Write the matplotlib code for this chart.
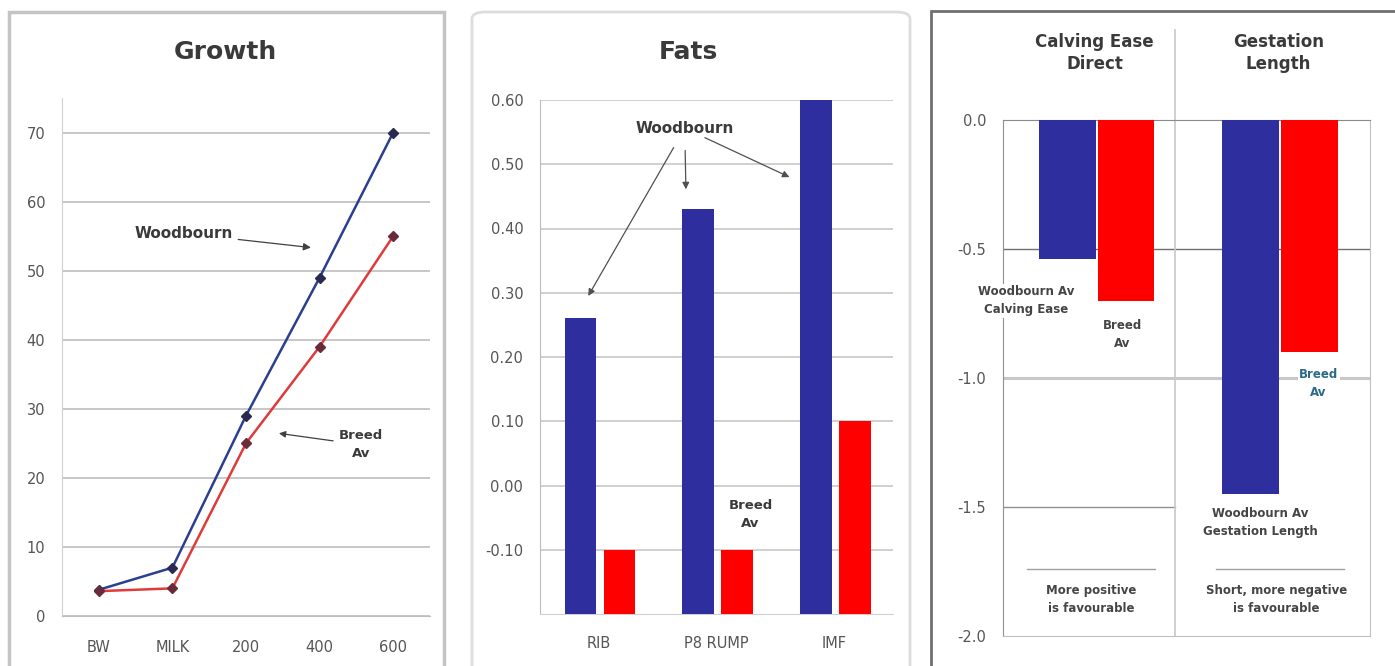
import matplotlib
matplotlib.use("Agg")
import matplotlib.pyplot as plt
import numpy as np
from matplotlib.patches import FancyBboxPatch, Rectangle

plt.rcParams['font.family'] = ['DejaVu Sans']

# ---------------- data ----------------
growth_cats = ["BW", "MILK", "200", "400", "600"]
growth_woodbourn = [3.8, 7.0, 29.0, 49.0, 70.0]
growth_breed = [3.6, 4.0, 25.0, 39.0, 55.0]
growth_yticks = [0, 10, 20, 30, 40, 50, 60, 70]

fats_cats = ["RIB", "P8 RUMP", "IMF"]
fats_woodbourn = [0.26, 0.43, 0.60]
fats_breed = [-0.10, -0.10, 0.10]
fats_yticks = [-0.10, 0.00, 0.10, 0.20, 0.30, 0.40, 0.50, 0.60]
fats_base = -0.20

calv_cats = ["Calving Ease Direct", "Gestation Length"]
calv_woodbourn = [-0.54, -1.45]
calv_breed = [-0.70, -0.90]
calv_yticks = [0.0, -0.5, -1.0, -1.5, -2.0]

BLUE = "#2E2E9E"
RED = "#FF0000"
TXT = "#3A3A3A"
TICK = "#555555"

W, H = 1395, 666
fig = plt.figure(figsize=(W / 100, H / 100), dpi=100)
fig.patch.set_facecolor("white")

def fx(px):
    return px / W

def fy(py):
    return 1 - py / H

# panel frames
fig.patches.append(Rectangle((fx(9), fy(700)), fx(444) - fx(9), fy(12) - fy(700),
                             transform=fig.transFigure, fill=False, ec="#C4C4C4", lw=2.5))
fig.patches.append(FancyBboxPatch((fx(472), fy(700)), fx(910) - fx(472), fy(12) - fy(700),
                                  boxstyle="round,pad=0,rounding_size=0.01",
                                  transform=fig.transFigure, fill=False, ec="#DDDDDD", lw=2))
fig.patches.append(Rectangle((fx(931), fy(700)), fx(1400) - fx(931), fy(11) - fy(700),
                             transform=fig.transFigure, fill=False, ec="#707070", lw=2))

# ---------------- Growth ----------------
ax1 = fig.add_axes([fx(62), fy(616), fx(430) - fx(62), fy(98) - fy(616)])
x1 = np.arange(len(growth_cats))
ax1.plot(x1, growth_woodbourn, color="#2A3F8F", lw=1.8, marker="D", ms=5,
         mfc="#2A2A50", mec="#2A2A50", zorder=3)
ax1.plot(x1, growth_breed, color="#E03A3A", lw=1.8, marker="D", ms=5,
         mfc="#6A2A3A", mec="#6A2A3A", zorder=3)
ax1.set_xlim(-0.5, len(growth_cats) - 0.5)
ax1.set_ylim(0, 75)
ax1.set_yticks(growth_yticks)
ax1.set_yticklabels([str(v) for v in growth_yticks])
ax1.set_xticks(x1)
ax1.set_xticklabels(growth_cats)
ax1.yaxis.grid(True, color="#BDBDBD", lw=1.2)
ax1.set_axisbelow(True)
for s in ["top", "right"]:
    ax1.spines[s].set_visible(False)
ax1.spines["left"].set_color("#D0D0D0")
ax1.spines["bottom"].set_color("#BDBDBD")
ax1.tick_params(length=0, labelsize=10.5, colors=TICK)
ax1.tick_params(axis="y", pad=12)
ax1.tick_params(axis="x", pad=17)
ax1.annotate("Woodbourn", xy=(2.92, 53.3), xytext=(1.15, 55.4), ha="center", va="center",
             fontsize=11, fontweight="bold", color=TXT,
             arrowprops=dict(arrowstyle="-|>", color="#404040", lw=0.9, shrinkA=2))
ax1.annotate("Breed\nAv", xy=(2.41, 26.5), xytext=(3.56, 24.8), ha="center", va="center",
             fontsize=9.5, fontweight="bold", color=TXT, linespacing=1.5,
             arrowprops=dict(arrowstyle="-|>", color="#404040", lw=0.9, shrinkA=2))
fig.text(fx(225), fy(52), "Growth", ha="center", va="center", fontsize=18,
         fontweight="bold", color=TXT)

# ---------------- Fats ----------------
ax2 = fig.add_axes([fx(540), fy(614), fx(893) - fx(540), fy(100) - fy(614)])
x2 = np.arange(len(fats_cats))
bw = 0.27
ax2.bar(x2 - 0.155, np.array(fats_woodbourn) - fats_base, bottom=fats_base, width=bw,
        color=BLUE, zorder=3)
ax2.bar(x2 + 0.175, np.array(fats_breed) - fats_base, bottom=fats_base, width=bw,
        color=RED, zorder=3)
ax2.set_xlim(-0.5, len(fats_cats) - 0.5)
ax2.set_ylim(fats_base, 0.60)
ax2.set_yticks(fats_yticks)
ax2.set_yticklabels([f"{v:.2f}" for v in fats_yticks])
ax2.set_xticks(x2)
ax2.set_xticklabels(fats_cats)
ax2.yaxis.grid(True, color="#C8C8C8", lw=1.2)
ax2.set_axisbelow(True)
for s in ["top", "right"]:
    ax2.spines[s].set_visible(False)
ax2.spines["left"].set_color("#BDBDBD")
ax2.spines["bottom"].set_color("#D0D0D0")
ax2.tick_params(length=0, labelsize=10.5, colors=TICK)
ax2.tick_params(axis="y", pad=12)
ax2.tick_params(axis="x", pad=16)
for tip in [(-0.09, 0.295), (0.74, 0.461), (1.62, 0.48)]:
    ax2.annotate("", xy=tip, xytext=(0.73, 0.556),
                 arrowprops=dict(arrowstyle="-|>", color="#505050", lw=0.9,
                                 shrinkA=16, shrinkB=0))
ax2.text(0.73, 0.556, "Woodbourn", ha="center", va="center", fontsize=11,
         fontweight="bold", color=TXT, zorder=5)
ax2.text(1.29, -0.045, "Breed\nAv", ha="center", va="center", fontsize=9.5,
         fontweight="bold", color=TXT, linespacing=1.5)
fig.text(fx(688), fy(52), "Fats", ha="center", va="center", fontsize=18,
         fontweight="bold", color=TXT)

# ---------------- Calving / Gestation ----------------
ax3 = fig.add_axes([fx(1003), fy(636), fx(1370) - fx(1003), fy(120) - fy(636)])
x3 = np.arange(len(calv_cats))
cw = 0.31
ax3.bar(x3 - 0.15, calv_woodbourn, width=cw, color=BLUE, zorder=3)
ax3.bar(x3 + 0.17, calv_breed, width=cw, color=RED, zorder=3)
ax3.set_xlim(-0.5, len(calv_cats) - 0.5)
ax3.set_ylim(-2.0, 0.0)
ax3.set_yticks(calv_yticks)
ax3.set_yticklabels([f"{v:.1f}" for v in calv_yticks])
ax3.set_xticks([])
ax3.axhline(-0.5, color="#707070", lw=1.0, zorder=1)
ax3.axhline(-1.0, color="#C8C8C8", lw=2.2, zorder=1)
ax3.axhline(-1.5, xmax=0.47, color="#909090", lw=1.0, zorder=1)
for s in ax3.spines.values():
    s.set_color("#C0C0C0")
ax3.spines["left"].set_color("#909090")
ax3.spines["top"].set_color("#8A8A8A")
ax3.tick_params(length=0, labelsize=10.5, colors=TICK, pad=12)
ax3.plot([0.437, 0.437], [-2.0, 0.35], color="#C8C8C8", lw=1.2, clip_on=False, zorder=2)
for i, cat in enumerate(calv_cats):
    ax3.text(i, 0.26, cat.replace("Ease ", "Ease\n").replace("Gestation ", "Gestation\n"),
             ha="center", va="center", fontsize=12, fontweight="bold", color=TXT,
             linespacing=1.3, clip_on=False)
ax3.text(-0.375, -0.70, "Woodbourn Av\nCalving Ease", ha="center", va="center",
         fontsize=8.5, fontweight="bold", color="#454545", linespacing=1.5, zorder=4,
         bbox=dict(fc="white", ec="none", pad=1), clip_on=False)
ax3.text(0.15, -0.83, "Breed\nAv", ha="center", va="center", fontsize=8.5,
         fontweight="bold", color="#454545", linespacing=1.5, zorder=4)
ax3.text(1.22, -1.02, "Breed\nAv", ha="center", va="center", fontsize=8.5,
         fontweight="bold", color="#2A6A86", linespacing=1.5, zorder=4,
         bbox=dict(fc="white", ec="none", pad=1))
ax3.text(0.90, -1.56, "Woodbourn Av\nGestation Length", ha="center", va="center",
         fontsize=8.5, fontweight="bold", color="#454545", linespacing=1.5, zorder=4)
ax3.plot([-0.37, 0.33], [-1.74, -1.74], color="#A0A0A0", lw=1.0)
ax3.plot([0.66, 1.36], [-1.74, -1.74], color="#A0A0A0", lw=1.0)
ax3.text(-0.02, -1.86, "More positive\nis favourable", ha="center", va="center",
         fontsize=8.5, fontweight="bold", color="#454545", linespacing=1.5)
ax3.text(0.99, -1.86, "Short, more negative\nis favourable", ha="center", va="center",
         fontsize=8.5, fontweight="bold", color="#454545", linespacing=1.5)

fig.savefig("out.png", dpi=100)
